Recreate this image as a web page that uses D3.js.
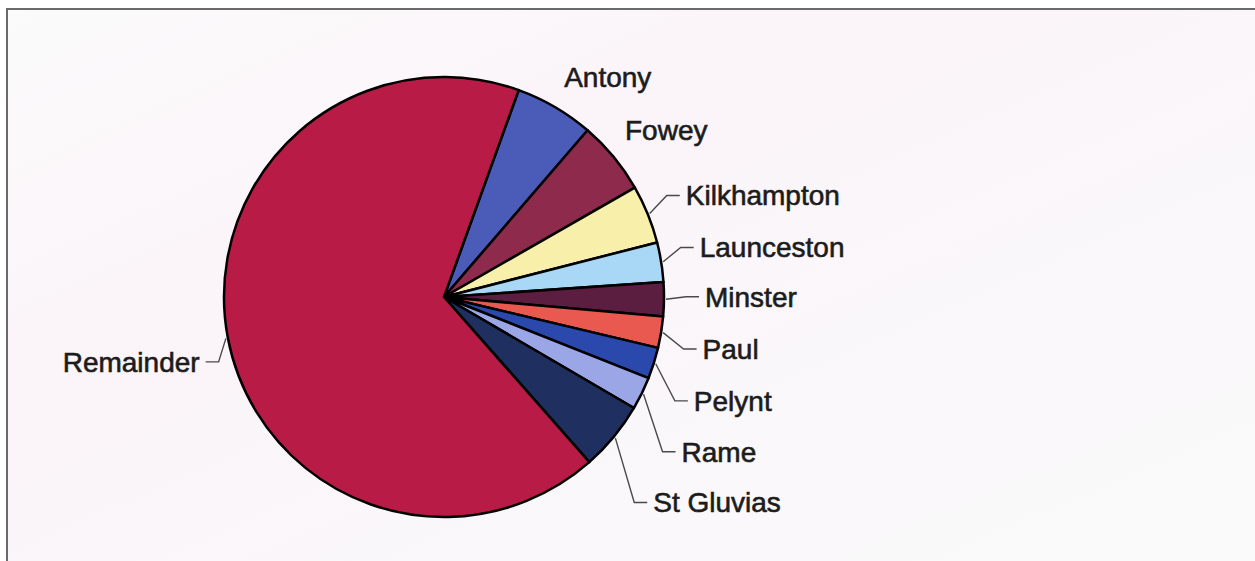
<!DOCTYPE html>
<html>
<head>
<meta charset="utf-8">
<script src="https://cdn.jsdelivr.net/npm/d3@7/dist/d3.min.js"></script>
<style>
  html, body { margin: 0; padding: 0; background: #ffffff; }
  svg { display: block; }
  text { font-family: "Liberation Sans", Arial, sans-serif; }
</style>
</head>
<body>
<svg id="chart" width="1255" height="561"></svg>
<script>
// Parishes, clockwise from the first slice
const parishes = ["Antony", "Fowey", "Kilkhampton", "Launceston", "Minster",
                  "Paul", "Pelynt", "Rame", "St Gluvias", "Remainder"];
// Share of the total (per thousand)
const shares = [58, 54, 43, 29, 25, 23, 23, 24, 51, 670];
const sliceColors = ["#4b5bb8", "#8e2a4b", "#f8efaa", "#a8d8f5", "#5b1d40",
                     "#e9594f", "#2b48ac", "#9ba6e6", "#1f3060", "#b81b45"];

// Label placement: nudge from the radial anchor, text anchor, leader line shown
const labelNudge = [[-12, 6], [-21, 0], [-1, -3], [-3, -8], [-1, -3],
                    [0, 10], [0, 25], [2, 40], [7, 39], [13, 16]];
const labelAnchor = ["start", "start", "start", "start", "start",
                     "start", "start", "start", "start", "end"];
const hasLeader = [false, false, true, true, true, true, true, true, true, true];

const svg = d3.select("#chart");
const W = 1255, H = 561;

// chart area frame
svg.append("rect").attr("x", 0).attr("y", 0).attr("width", W).attr("height", H).attr("fill", "#ffffff");
const defs = svg.append("defs");
const bg = defs.append("linearGradient").attr("id", "bg").attr("x1", 0).attr("y1", 0).attr("x2", 1).attr("y2", 1);
bg.append("stop").attr("offset", "0%").attr("stop-color", "#fbfbfb");
bg.append("stop").attr("offset", "35%").attr("stop-color", "#fbf4f9");
bg.append("stop").attr("offset", "70%").attr("stop-color", "#faf8fa");
bg.append("stop").attr("offset", "100%").attr("stop-color", "#fafafa");
svg.append("rect").attr("x", 7).attr("y", 9).attr("width", W).attr("height", H)
  .attr("fill", "url(#bg)").attr("stroke", "#6a6a6a").attr("stroke-width", 2);

const cx = 444, cy = 297, r = 220;
const deg = Math.PI / 180;
const firstAngle = 19.85 * deg;

const pie = d3.pie().sort(null).value(d => d.v)
  .startAngle(firstAngle).endAngle(firstAngle + 2 * Math.PI);
const data = parishes.map((n, i) => ({ name: n, v: shares[i], i }));
const arcs = pie(data);
const arc = d3.arc().innerRadius(0).outerRadius(r);

const g = svg.append("g").attr("transform", `translate(${cx},${cy})`);
g.selectAll("path.slice").data(arcs).enter().append("path")
  .attr("class", "slice")
  .attr("d", arc)
  .attr("fill", d => sliceColors[d.data.i])
  .attr("stroke", "#000")
  .attr("stroke-width", 2.5)
  .attr("stroke-linejoin", "round");

// polar helper (angle measured clockwise from 12 o'clock)
const polar = (a, rad) => [Math.sin(a) * rad, -Math.cos(a) * rad];

const labelR = r + 42;
arcs.forEach(d => {
  const i = d.data.i;
  const mid = (d.startAngle + d.endAngle) / 2;
  const [ax, ay] = polar(mid, labelR);
  const lx = ax + labelNudge[i][0];
  const ly = ay + labelNudge[i][1];
  const anchor = labelAnchor[i];

  if (hasLeader[i]) {
    const [sx, sy] = polar(mid, r + 2);
    const dir = anchor === "start" ? 1 : -1;
    const endX = lx - dir * 6;
    const elbowX = endX - dir * 13;
    g.append("path")
      .attr("d", d3.line()([[sx, sy], [elbowX, ly], [endX, ly]]))
      .attr("fill", "none")
      .attr("stroke", "#4a4a4a")
      .attr("stroke-width", 1.4);
  }

  g.append("text")
    .attr("x", lx)
    .attr("y", ly)
    .attr("dy", "0.35em")
    .attr("text-anchor", anchor)
    .attr("font-size", 28)
    .attr("fill", "#1c1c1c")
    .attr("stroke", "#1c1c1c")
    .attr("stroke-width", 0.6)
    .text(d.data.name);
});
</script>
</body>
</html>
